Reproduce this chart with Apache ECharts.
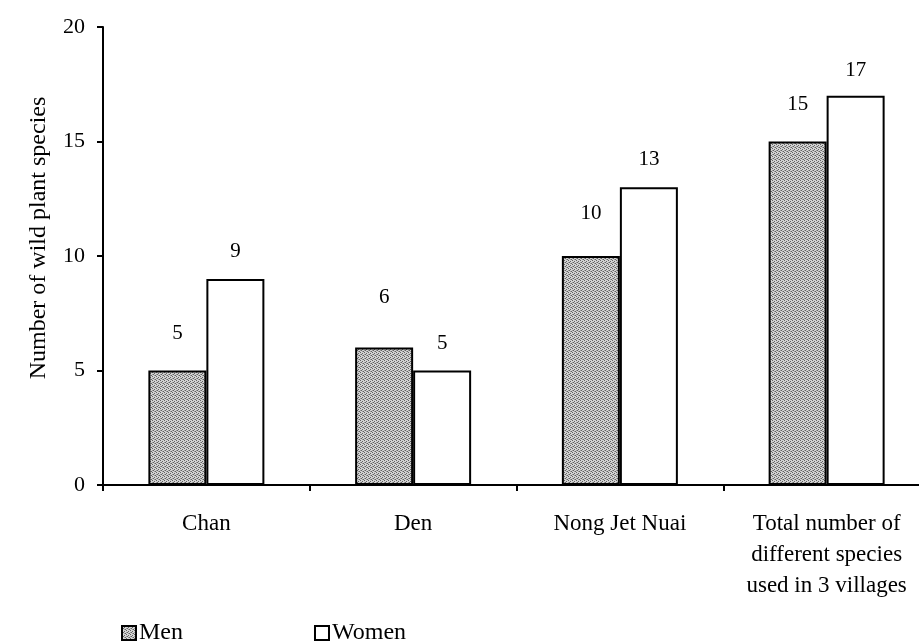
<!DOCTYPE html>
<html>
<head>
<meta charset="utf-8">
<script src="https://cdn.jsdelivr.net/npm/echarts@6/dist/echarts.min.js"></script>
<style>
  html, body { margin: 0; padding: 0; background: #fff; }
  #chart { width: 919px; height: 642px; }
</style>
</head>
<body>
<div id="chart"></div>
<script>
// Wild plant species used, by village and gender
const villages = ['Chan', 'Den', 'Nong Jet Nuai', 'Total number of\ndifferent species\nused in 3 villages'];
const men = [5, 6, 10, 15];
const women = [9, 5, 13, 17];
const yTicks = [0, 5, 10, 15, 20];

// Label distance above each bar (styling only)
const menLabelGap = [27, 40, 32, 27];
const womenLabelGap = [17, 17, 17, 15];

// Halftone-like fill for the "Men" bars
function halftone() {
  const c = document.createElement('canvas');
  c.width = 4; c.height = 4;
  const g = c.getContext('2d');
  g.fillStyle = '#d2d2d2';
  g.fillRect(0, 0, 4, 4);
  g.fillStyle = '#626262';
  [[0, 0], [2, 1], [1, 2], [3, 3]].forEach(p => g.fillRect(p[0], p[1], 1, 1));
  g.fillStyle = '#9a9a9a';
  [[2, 3], [0, 2]].forEach(p => g.fillRect(p[0], p[1], 1, 1));
  return { image: c, repeat: 'repeat' };
}

const serif = '"Liberation Serif", "DejaVu Serif", serif';
const chart = echarts.init(document.getElementById('chart'));

chart.setOption({
  animation: false,
  backgroundColor: '#fff',
  textStyle: { fontFamily: serif, color: '#000' },
  grid: { left: 103, top: 27, width: 827, height: 458, containLabel: false, outerBoundsMode: 'none' },
  legend: {
    left: 116, top: 616,
    itemWidth: 14, itemHeight: 14, itemGap: 131,
    icon: 'rect',
    textStyle: { fontFamily: serif, fontSize: 24, color: '#000', padding: [0, 0, 0, -2] },
    data: ['Men', 'Women']
  },
  xAxis: {
    type: 'category',
    data: villages,
    axisLine: { lineStyle: { color: '#000', width: 2 } },
    axisTick: { show: true, length: 6, lineStyle: { color: '#000', width: 2 } },
    axisLabel: { fontFamily: serif, fontSize: 23, color: '#000', margin: 23, lineHeight: 31, interval: 0 }
  },
  yAxis: {
    type: 'value',
    min: yTicks[0], max: yTicks[yTicks.length - 1], interval: 5,
    name: 'Number of wild plant species',
    nameLocation: 'middle',
    nameGap: 52,
    nameTextStyle: { fontFamily: serif, fontSize: 24, color: '#000', padding: [0, 0, 0, 36] },
    axisLine: { show: true, lineStyle: { color: '#000', width: 2 } },
    axisTick: { show: true, length: 6, lineStyle: { color: '#000', width: 2 } },
    axisLabel: { fontFamily: serif, fontSize: 22, color: '#000', margin: 18 },
    splitLine: { show: false }
  },
  series: [
    {
      name: 'Men', type: 'bar', barWidth: 58, barGap: '0%',
      itemStyle: { color: halftone(), borderColor: '#000', borderWidth: 2 },
      data: men.map((v, i) => ({ value: v, label: { distance: menLabelGap[i] } })),
      label: { show: true, position: 'top', fontFamily: serif, fontSize: 21, color: '#000' }
    },
    {
      name: 'Women', type: 'bar', barWidth: 58, barGap: '0%',
      itemStyle: { color: '#fff', borderColor: '#000', borderWidth: 2 },
      data: women.map((v, i) => ({ value: v, label: { distance: womenLabelGap[i] } })),
      label: { show: true, position: 'top', fontFamily: serif, fontSize: 21, color: '#000' }
    }
  ]
});
</script>
</body>
</html>
